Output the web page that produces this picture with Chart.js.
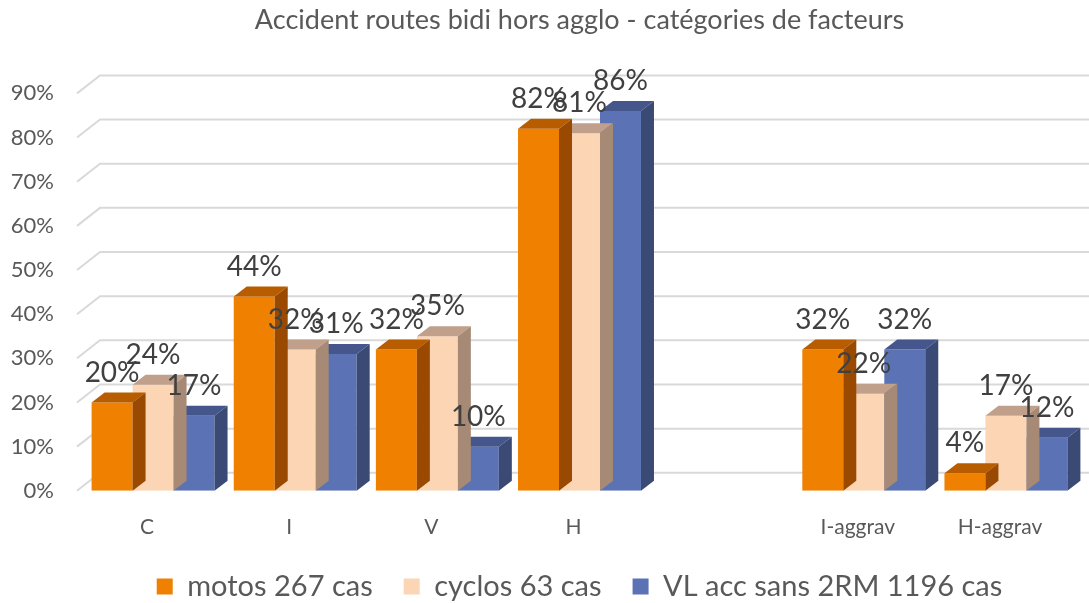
<!DOCTYPE html>
<html>
<head>
<meta charset="utf-8">
<script src="https://cdn.jsdelivr.net/npm/chart.js@4.4.1/dist/chart.umd.min.js"></script>
<style>
  body { margin: 0; background: #fff; }
  #wrap { width: 1089px; height: 603px; }
</style>
</head>
<body>
<div id="wrap"><canvas id="accChart" width="1089" height="603"></canvas></div>
<script>
const categories = ['C', 'I', 'V', 'H', '', 'I-aggrav', 'H-aggrav'];
const motos = [20, 44, 32, 82, null, 32, 4];
const cyclos = [24, 32, 35, 81, null, 22, 17];
const vl = [17, 31, 10, 86, null, 32, 12];
const yTicks = [0, 10, 20, 30, 40, 50, 60, 70, 80, 90];

const FONT = 'Lato, "Open Sans", sans-serif';
const DX = 13, DY = 10; // profondeur des barres 3D

// couleurs : face, dessus, côté
const shades = [
    ['#F08000', '#B85C00', '#9A4A00'],
    ['#FCD5B4', '#C0A08A', '#A68A76'],
    ['#5B73B4', '#44568C', '#3A4A74']
];

// grille façon Excel 3D (paroi de gauche + mur du fond)
const grid3d = {
    id: 'grid3d',
    afterLayout(chart) {
        // remonte un peu la légende
        chart.legend.top -= 15;
        chart.legend.bottom -= 15;
    },
    beforeDatasetsDraw(chart) {
        const ctx = chart.ctx;
        const y = chart.scales.y;
        const left = chart.chartArea.left;
        ctx.save();
        ctx.strokeStyle = '#D9D9D9';
        ctx.lineWidth = 2;
        yTicks.forEach(v => {
            const py = y.getPixelForValue(v);
            ctx.beginPath();
            ctx.moveTo(left - 5, py);
            ctx.lineTo(left + 18, py - 18);
            ctx.lineTo(chart.width, py - 18);
            ctx.stroke();
        });
        ctx.restore();
    }
};

const bars3d = {
    id: 'bars3d',
    afterDatasetDraw(chart, args) {
        const ctx = chart.ctx;
        const c = shades[args.index];
        const meta = chart.getDatasetMeta(args.index);
        ctx.save();
        meta.data.forEach((bar, i) => {
            if (chart.data.datasets[args.index].data[i] == null) return;
            const p = bar.getProps(['x', 'y', 'base', 'width'], true);
            const l = p.x - p.width / 2, r = p.x + p.width / 2;
            ctx.fillStyle = c[1];
            ctx.beginPath();
            ctx.moveTo(l, p.y);
            ctx.lineTo(l + DX, p.y - DY);
            ctx.lineTo(r + DX, p.y - DY);
            ctx.lineTo(r, p.y);
            ctx.closePath();
            ctx.fill();
            ctx.fillStyle = c[2];
            ctx.beginPath();
            ctx.moveTo(r, p.y);
            ctx.lineTo(r + DX, p.y - DY);
            ctx.lineTo(r + DX, p.base - DY);
            ctx.lineTo(r, p.base);
            ctx.closePath();
            ctx.fill();
        });
        ctx.restore();
    },
    afterDatasetsDraw(chart) {
        const ctx = chart.ctx;
        ctx.save();
        ctx.font = '28px ' + FONT;
        ctx.fillStyle = '#404040';
        ctx.textAlign = 'center';
        ctx.textBaseline = 'middle';
        chart.data.datasets.forEach((ds, di) => {
            chart.getDatasetMeta(di).data.forEach((bar, i) => {
                if (ds.data[i] == null) return;
                ctx.fillText(ds.data[i] + '%', bar.x, bar.y - 30);
            });
        });
        ctx.restore();
    }
};

const ctx = document.getElementById('accChart').getContext('2d');
new Chart(ctx, {
    type: 'bar',
    data: {
        labels: categories,
        datasets: [
            { label: 'motos 267 cas', data: motos, backgroundColor: shades[0][0] },
            { label: 'cyclos 63 cas', data: cyclos, backgroundColor: shades[1][0] },
            { label: 'VL acc sans 2RM 1196 cas', data: vl, backgroundColor: shades[2][0] }
        ]
    },
    options: {
        responsive: false,
        animation: false,
        categoryPercentage: 0.865,
        barPercentage: 1,
        layout: { padding: { left: 0, right: 12, top: 0, bottom: -23 } },
        scales: {
            x: {
                grid: { display: false },
                border: { display: false },
                ticks: { color: '#595959', font: { family: FONT, size: 21 }, padding: 16, labelOffset: -6 }
            },
            y: {
                min: 0,
                max: 90,
                afterFit(scale) { scale.width = 82; },
                grid: { display: false },
                border: { display: false },
                ticks: {
                    stepSize: 10,
                    padding: 20,
                    color: '#595959',
                    font: { family: FONT, size: 22 },
                    callback: v => v + '%'
                }
            }
        },
        plugins: {
            title: {
                display: true,
                fullSize: false,
                text: 'Accident routes bidi hors agglo - catégories de facteurs',
                color: '#595959',
                font: { family: FONT, size: 27, weight: 'normal' },
                padding: { top: 4, bottom: 57 }
            },
            legend: {
                position: 'bottom',
                fullSize: false,
                labels: {
                    color: '#595959',
                    font: { family: FONT, size: 29 },
                    boxWidth: 16,
                    boxHeight: 16,
                    padding: 31
                }
            },
            tooltip: { enabled: false }
        }
    },
    plugins: [grid3d, bars3d]
});
</script>
</body>
</html>
